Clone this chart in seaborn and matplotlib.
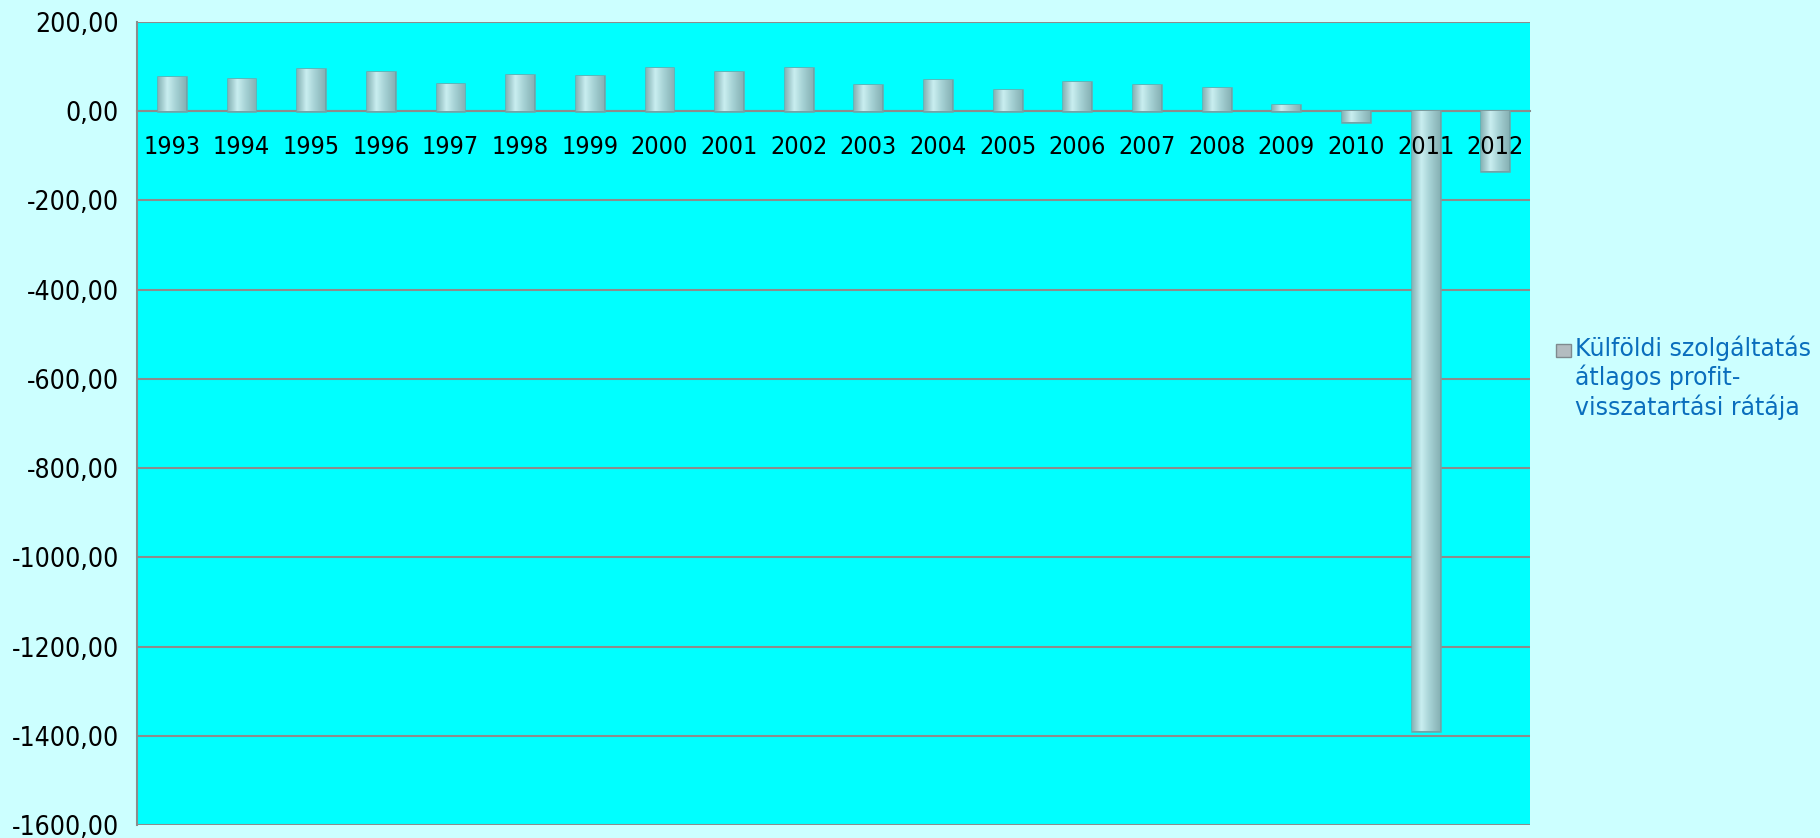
import matplotlib
matplotlib.use("Agg")
import matplotlib.pyplot as plt
from matplotlib.ticker import FuncFormatter, FixedLocator
from matplotlib.patches import Rectangle
from matplotlib.colors import LinearSegmentedColormap
import seaborn as sns
import pandas as pd
import numpy as np

# data
years = ["1993", "1994", "1995", "1996", "1997", "1998", "1999", "2000", "2001", "2002",
         "2003", "2004", "2005", "2006", "2007", "2008", "2009", "2010", "2011", "2012"]
rates = [76, 73, 94, 88, 61, 82, 79, 97, 88, 97,
         59, 71, 48, 65, 59, 53, 13, -25, -1390, -133]
series_label = "Külföldi szolgáltatás\nátlagos profit-\nvisszatartási rátája"
y_ticks = [200, 0, -200, -400, -600, -800, -1000, -1200, -1400, -1600]

df = pd.DataFrame({"year": years, "rate": rates})

sns.set_style("white")
plt.rcParams["font.family"] = ["DejaVu Sans"]
plt.rcParams["font.stretch"] = "condensed"

fig = plt.figure(figsize=(18.2, 8.38), dpi=100, facecolor="#ccffff")
ax = fig.add_axes([0.0753, 0.0155, 0.7654, 0.9582])
ax.set_facecolor("#00ffff")

sns.barplot(data=df, x="year", y="rate", ax=ax, width=0.4, color="#a9d5d8",
            edgecolor="#76a2a6", linewidth=1.8, saturation=1, zorder=3)

ax.set_ylim(-1600, 200)
ax.set_xlim(-0.5, len(years) - 0.5)

# shaded fill inside each bar, darker at the sides, light in the middle
shade = LinearSegmentedColormap.from_list("shade", ["#88b3b6", "#c9eef0", "#a3cfd2", "#88b3b6"])
grad = np.linspace(0, 1, 64).reshape(1, -1)
for bar in ax.patches:
    x0, y0 = bar.get_x(), bar.get_y()
    w, h = bar.get_width(), bar.get_height()
    im = ax.imshow(grad, cmap=shade, aspect="auto", zorder=3.5,
                   extent=[x0, x0 + w, y0, y0 + h], origin="lower")
    im.set_clip_path(bar)
ax.set_ylim(-1600, 200)
ax.set_xlim(-0.5, len(years) - 0.5)

ax.yaxis.set_major_locator(FixedLocator(y_ticks))
ax.yaxis.set_major_formatter(FuncFormatter(lambda v, p: f"{v:.2f}".replace(".", ",")))
ax.grid(axis="y", color="#8c8c8c", linewidth=1.5, zorder=0)
ax.set_axisbelow(True)

# x axis sits on the zero line, tick marks between categories
ax.spines["bottom"].set_position(("data", 0))
for s in ["top", "right"]:
    ax.spines[s].set_visible(False)
for s in ["bottom", "left"]:
    ax.spines[s].set_color("#8c8c8c")
    ax.spines[s].set_linewidth(1.5)
ax.set_xticks(range(len(years)))
ax.set_xticklabels(years)
ax.set_xticks([i + 0.5 for i in range(len(years))], minor=True)
ax.tick_params(axis="x", which="major", length=0, pad=17, labelsize=18, labelcolor="black")
ax.tick_params(axis="x", which="minor", length=8, width=1.5, color="#8c8c8c")
ax.tick_params(axis="y", length=8, width=1.5, color="#8c8c8c", labelsize=19,
               labelcolor="black", pad=5)
# year labels are written over the long negative bars
ax.xaxis.set_zorder(5)
ax.set_xlabel("")
ax.set_ylabel("")

# legend drawn at the right, marker next to the first line
fig.patches.append(Rectangle((0.8549, 0.574), 0.0082, 0.0155, transform=fig.transFigure,
                             facecolor="#b3bcc0", edgecolor="#7f8a8e", linewidth=1))
fig.text(0.8654, 0.600, series_label, ha="left", va="top", fontsize=17,
         color="#0a6ebd", fontstretch="normal", linespacing=1.2)

fig.savefig("out.png", dpi=100, facecolor=fig.get_facecolor())
